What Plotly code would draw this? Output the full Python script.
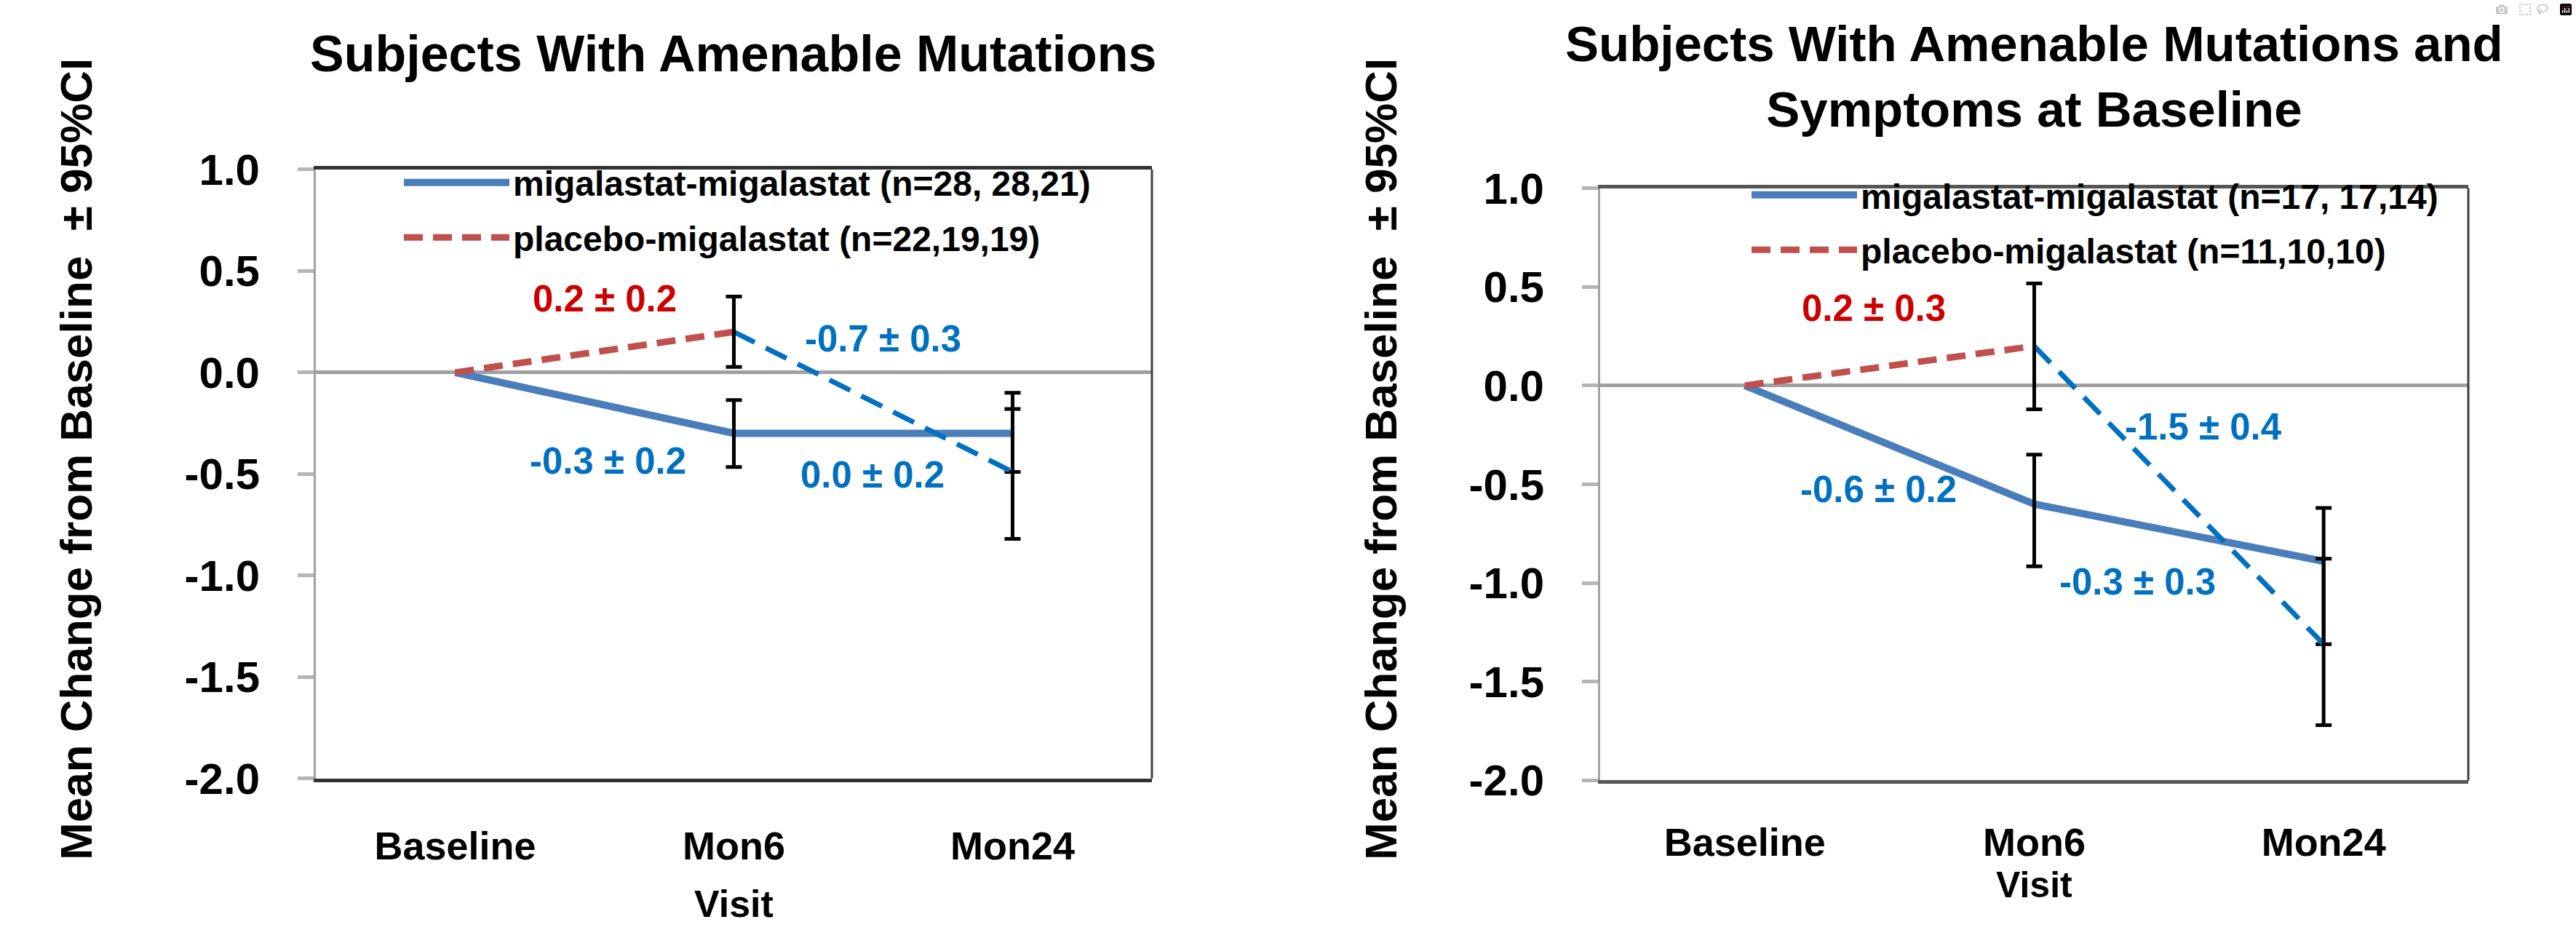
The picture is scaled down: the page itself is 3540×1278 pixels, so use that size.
import plotly.graph_objects as go

# ---------------- data ----------------
visits = ["Baseline", "Mon6", "Mon24"]
y_tickvals = [1.0, 0.5, 0.0, -0.5, -1.0, -1.5, -2.0]
y_ticktext = ["1.0", "0.5", "0.0", "-0.5", "-1.0", "-1.5", "-2.0"]

# Left panel: Subjects With Amenable Mutations
mm_mean_L = [0.0, -0.30, -0.30]
mm_lo_L = [None, -0.466, -0.49]
mm_hi_L = [None, -0.136, -0.10]
pm_mean_L = [0.0, 0.20, -0.49]
pm_lo_L = [None, 0.027, -0.82]
pm_hi_L = [None, 0.374, -0.18]
labels_L = ["0.2 ± 0.2", "-0.7 ± 0.3", "-0.3 ± 0.2", "0.0 ± 0.2"]
legend_L = ["migalastat-migalastat (n=28, 28,21)", "placebo-migalastat (n=22,19,19)"]
title_L = "Subjects With Amenable Mutations"

# Right panel: Subjects With Amenable Mutations and Symptoms at Baseline
mm_mean_R = [0.0, -0.60, -0.89]
mm_lo_R = [None, -0.916, -1.31]
mm_hi_R = [None, -0.35, -0.62]
pm_mean_R = [0.0, 0.20, -1.31]
pm_lo_R = [None, -0.12, -1.72]
pm_hi_R = [None, 0.517, -0.877]
labels_R = ["0.2 ± 0.3", "-1.5 ± 0.4", "-0.6 ± 0.2", "-0.3 ± 0.3"]
legend_R = ["migalastat-migalastat (n=17, 17,14)", "placebo-migalastat (n=11,10,10)"]
title_R = "Subjects With Amenable Mutations and<br>Symptoms at Baseline"

y_title = "Mean Change from Baseline  ± 95%CI"
x_title = "Visit"

# ---------------- style ----------------
W, H = 3540, 1278
FONT = "Liberation Sans, Arial, sans-serif"
BLUE = "#4A7EBB"
BLUE2 = "#0070C0"
RED = "#C0504D"
RED_TXT = "#CC0000"
BLUE_TXT = "#0070C0"
RED_DASH = "26px,14px"
BLUE_DASH = "32px,17px"


def px(v):
    return v / W


def py(v):
    return 1 - v / H


fig = go.Figure()


def add_panel(sfx, legname, mm_mean, mm_lo, mm_hi, pm_mean, pm_lo, pm_hi, names):
    xa = "x" + sfx
    ya = "y" + sfx
    fig.add_trace(go.Scatter(
        x=visits, y=mm_mean, mode="lines", name=names[0],
        line=dict(color=BLUE, width=10), legendgroup="mm" + sfx, legend=legname,
        xaxis=xa, yaxis=ya))
    fig.add_trace(go.Scatter(
        x=visits[1:], y=mm_mean[1:], mode="markers", showlegend=False,
        legendgroup="mm" + sfx, legend=legname,
        marker=dict(size=1, opacity=0), hoverinfo="skip",
        error_y=dict(type="data", symmetric=False,
                     array=[h - m for h, m in zip(mm_hi[1:], mm_mean[1:])],
                     arrayminus=[m - l for l, m in zip(mm_lo[1:], mm_mean[1:])],
                     color="black", thickness=5, width=11),
        xaxis=xa, yaxis=ya))
    fig.add_trace(go.Scatter(
        x=visits[:2], y=pm_mean[:2], mode="lines", name=names[1],
        line=dict(color=RED, width=9, dash=RED_DASH),
        legendgroup="pm" + sfx, legend=legname, xaxis=xa, yaxis=ya))
    fig.add_trace(go.Scatter(
        x=visits[1:], y=pm_mean[1:], mode="lines", showlegend=False,
        line=dict(color=BLUE2, width=7, dash=BLUE_DASH),
        legendgroup="pm" + sfx, legend=legname, xaxis=xa, yaxis=ya))
    fig.add_trace(go.Scatter(
        x=visits[1:], y=pm_mean[1:], mode="markers", showlegend=False,
        legendgroup="pm" + sfx, legend=legname,
        marker=dict(size=1, opacity=0), hoverinfo="skip",
        error_y=dict(type="data", symmetric=False,
                     array=[h - m for h, m in zip(pm_hi[1:], pm_mean[1:])],
                     arrayminus=[m - l for l, m in zip(pm_lo[1:], pm_mean[1:])],
                     color="black", thickness=5, width=11),
        xaxis=xa, yaxis=ya))


add_panel("", "legend", mm_mean_L, mm_lo_L, mm_hi_L, pm_mean_L, pm_lo_L, pm_hi_L, legend_L)
add_panel("2", "legend2", mm_mean_R, mm_lo_R, mm_hi_R, pm_mean_R, pm_lo_R, pm_hi_R, legend_R)


def xaxis_cfg(domain, linecolor, anchor, standoff):
    return dict(domain=domain, anchor=anchor, type="category", categoryorder="array",
                categoryarray=visits, range=[-0.5, 2.5],
                showline=True, linecolor=linecolor, linewidth=5, mirror=True,
                ticks="", showgrid=False, zeroline=False,
                tickfont=dict(family=FONT, size=54, color="black", weight="bold"),
                ticklabelstandoff=standoff, fixedrange=True)


def yaxis_cfg(domain, anchor):
    return dict(domain=domain, anchor=anchor, range=[-2, 1],
                tickmode="array", tickvals=y_tickvals, ticktext=y_ticktext,
                ticks="outside", ticklen=22, tickwidth=5, tickcolor="#b5b5b5",
                showline=True, linecolor="#a0a0a0", linewidth=3,
                showgrid=False, zeroline=True, zerolinecolor="#a0a0a0",
                zerolinewidth=5,
                tickfont=dict(family=FONT, size=60, color="black", weight="bold"),
                ticklabelstandoff=40, fixedrange=True)


annotations = []
# titles
annotations.append(dict(text=title_L, xref="paper", yref="paper", x=px(1008), y=py(43),
                        xanchor="center", yanchor="middle", showarrow=False,
                        font=dict(family=FONT, size=70, color="black", weight="bold")))
annotations.append(dict(text=title_R, xref="paper", yref="paper", x=px(2795), y=py(77),
                        xanchor="center", yanchor="middle", showarrow=False,
                        font=dict(family=FONT, size=69, color="black", weight="bold")))
# y titles
for xc in (105, 1898):
    annotations.append(dict(text=y_title, xref="paper", yref="paper", x=px(xc), y=py(631),
                            xanchor="center", yanchor="middle", textangle=-90,
                            showarrow=False,
                            font=dict(family=FONT, size=62, color="black", weight="bold")))
# x titles
for xc, yc, fs in ((1008, 1276, 52), (2795, 1248, 50)):
    annotations.append(dict(text=x_title, xref="paper", yref="paper", x=px(xc), y=py(yc),
                            xanchor="center", yanchor="middle", showarrow=False,
                            font=dict(family=FONT, size=fs, color="black", weight="bold")))

# value labels (positions in data coordinates)
pos_L = [(0.537, 0.365), (1.534, 0.165), (0.547, -0.435), (1.497, -0.505)]
pos_R = [(0.446, 0.392), (1.585, -0.21), (0.461, -0.527), (1.358, -0.995)]
colors_lab = [RED_TXT, BLUE_TXT, BLUE_TXT, BLUE_TXT]
for sfx, labs, pos in (("", labels_L, pos_L), ("2", labels_R, pos_R)):
    for t, (xv, yv), c in zip(labs, pos, colors_lab):
        annotations.append(dict(text=t, xref="x" + sfx, yref="y" + sfx, x=xv, y=yv,
                                xanchor="center", yanchor="middle", showarrow=False,
                                font=dict(family=FONT, size=51, color=c, weight="bold")))

shapes = [
    dict(type="line", xref="x domain", yref="y domain", x0=1, x1=1, y0=0, y1=1,
         line=dict(color="#404040", width=3)),
    dict(type="line", xref="x2 domain", yref="y2 domain", x0=1, x1=1, y0=0, y1=1,
         line=dict(color="#404040", width=3)),
]

legend_font = dict(family=FONT, size=48, color="black", weight="bold")
fig.update_layout(
    width=W, height=H, margin=dict(l=0, r=0, t=0, b=0),
    paper_bgcolor="white", plot_bgcolor="white",
    xaxis=xaxis_cfg([px(434), px(1583)], "#333333", "y", 42),
    yaxis=yaxis_cfg([1 - 1094 / H, 1 - 211 / H], "x"),
    xaxis2=xaxis_cfg([px(2199), px(3392)], "#555555", "y2", 34),
    yaxis2=yaxis_cfg([1 - 1097 / H, 1 - 238 / H], "x2"),
    legend=dict(x=px(705 - 155), y=py(190), xanchor="left", yanchor="top",
                bgcolor="rgba(0,0,0,0)", font=legend_font, tracegroupgap=10,
                itemwidth=145),
    legend2=dict(x=px(2557 - 155), y=py(208), xanchor="left", yanchor="top",
                 bgcolor="rgba(0,0,0,0)", font=legend_font, tracegroupgap=10,
                 itemwidth=145),
    annotations=annotations, shapes=shapes, showlegend=True,
)

fig.write_html("out.html",
               post_script="document.body.style.margin='0';document.body.style.overflow='hidden';")
